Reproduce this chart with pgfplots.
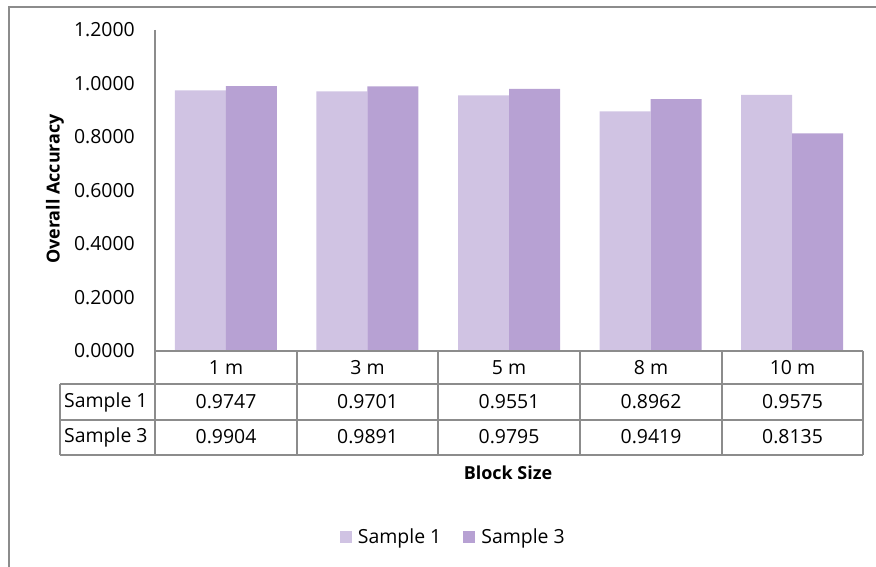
\documentclass[border=0pt]{standalone}
\usepackage{pgfplots}
\pgfplotsset{compat=1.18}
\usepackage{fontspec}
\setmainfont{Open Sans}
\definecolor{sOne}{RGB}{208,195,227}
\definecolor{sThree}{RGB}{183,161,211}
\definecolor{gridgray}{RGB}{140,140,140}
\begin{document}
\begin{tikzpicture}[x=1bp,y=1bp]
\path[use as bounding box] (0,0) rectangle (876,567);
% outer chart border (top and left visible)
\draw[gridgray, line width=1.5bp] (9,0) -- (9,560) -- (876,560);
\begin{axis}[
  at={(155bp,216bp)}, anchor=south west,
  scale only axis, width=708bp, height=321bp,
  xmin=-0.5, xmax=4.5, ymin=0, ymax=1.2,
  ybar, bar width=51bp,
  axis line style={draw=none},
  major tick length=0pt,
  xtick=\empty,
  ytick={0,0.2,0.4,0.6,0.8,1.0,1.2},
  /pgf/number format/assume math mode=true,
  yticklabel={\pgfmathprintnumber[fixed,fixed zerofill,precision=4]{\tick}},
  yticklabel style={font=\fontsize{19.5}{20}\selectfont, anchor=east, inner sep=0pt, xshift=-20bp},
  clip=false,
  legend columns=2,
  legend style={at={(axis description cs:0.42,-0.579)}, anchor=center, draw=none,
    font=\fontsize{19.5}{20}\selectfont, inner sep=0pt,
    nodes={inner sep=0pt},
    /tikz/every odd column/.append style={column sep=6bp},
    /tikz/every even column/.append style={column sep=22bp}},
  legend cell align=left,
  legend image code/.code={\fill[#1,draw=none] (0bp,-6bp) rectangle (12bp,6bp);},
]
\addplot[fill=sOne, draw=none, bar shift=-25.5bp] coordinates {(0,0.9747) (1,0.9701) (2,0.9551) (3,0.8962) (4,0.9575)};
\addplot[fill=sThree, draw=none, bar shift=25.5bp] coordinates {(0,0.9904) (1,0.9891) (2,0.9795) (3,0.9419) (4,0.8135)};
\legend{Sample 1, Sample 3}
\end{axis}
% y axis title
\node[rotate=90, font=\fontsize{18}{20}\selectfont\bfseries, inner sep=0pt] at (55,378) {Overall Accuracy};
% y axis line
\draw[gridgray, line width=1.5bp] (155,537) -- (155,112);
% data table grid
\draw[gridgray, line width=1.5bp] (155,216) -- (863,216);
\draw[gridgray, line width=1.5bp] (60,183) -- (863,183);
\draw[gridgray, line width=1.5bp] (60,147) -- (863,147);
\draw[gridgray, line width=1.5bp] (60,112) -- (863,112);
\draw[gridgray, line width=1.5bp] (60,183) -- (60,112);
\foreach \xx in {297,438,580,722,863} \draw[gridgray, line width=1.5bp] (\xx,216) -- (\xx,112);
\begin{scope}[every node/.style={font=\fontsize{19.5}{20}\selectfont, inner sep=0pt}]
\node at (226,199) {1 m};
\node at (367.5,199) {3 m};
\node at (509,199) {5 m};
\node at (651,199) {8 m};
\node at (792.5,199) {10 m};
\node[anchor=west] at (64,165) {Sample 1};
\node[anchor=west] at (64,130) {Sample 3};
\node at (226,165) {0.9747};
\node at (367.5,165) {0.9701};
\node at (509,165) {0.9551};
\node at (651,165) {0.8962};
\node at (792.5,165) {0.9575};
\node at (226,130) {0.9904};
\node at (367.5,130) {0.9891};
\node at (509,130) {0.9795};
\node at (651,130) {0.9419};
\node at (792.5,130) {0.8135};
\end{scope}
\node[font=\fontsize{18}{20}\selectfont\bfseries, inner sep=0pt] at (508,94) {Block Size};
\end{tikzpicture}
\end{document}
